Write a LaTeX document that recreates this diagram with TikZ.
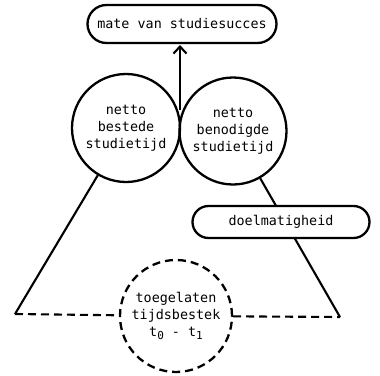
\documentclass[tikz,border=0pt]{standalone}
\usepackage{fontspec}
\newfontfamily\typew{DejaVu Sans Mono}
\usetikzlibrary{arrows.meta}
\tikzset{
  lbl/.style={font=\typew\fontsize{13.4}{17}\selectfont, align=center, text=black},
  pill/.style={lbl, draw, line width=2.3pt, fill=white, rounded corners=#1},
  circ/.style={lbl, draw, circle, line width=2.3pt, inner sep=0pt, minimum size=#1},
  conn/.style={line width=2.1pt},
  dconn/.style={line width=2.1pt, dash pattern=on 8pt off 5pt},
}
\newcommand{\sub}[1]{\raisebox{-2.5pt}{\fontsize{11}{11}\selectfont #1}}
\begin{document}
\begin{tikzpicture}[x=1pt,y=-1pt]
\useasboundingbox[fill=white] (0,0) rectangle (380,375);
\node[pill=19pt, minimum width=189pt, minimum height=38pt] (top) at (182,24) {mate van studiesucces};
\node[circ=108pt] (lc) at (126,128) {netto\\bestede\\studietijd};
\node[circ=107pt] (rc) at (233,131) {netto\\benodigde\\studietijd};
\node[circ=112pt, dash pattern=on 8pt off 5pt] (dc) at (176,316) {toegelaten\\tijdsbestek\\t\sub{0} - t\sub{1}};
\coordinate (mid) at (180,110);
\coordinate (lcorner) at (15,314);
\coordinate (rcorner) at (340,317);
\draw[conn, -{Straight Barb[length=7pt,width=13pt,line width=2.1pt]}] (mid) -- (mid |- 0,45);
\draw[conn] (lc) -- (lcorner);
\draw[conn] (rc) -- (rcorner);
\draw[dconn] (lcorner) -- (dc);
\draw[dconn] (dc) -- (rcorner);
\node[pill=16pt, minimum width=177pt, minimum height=32pt] (doel) at (281,222) {doelmatigheid};
\end{tikzpicture}
\end{document}
